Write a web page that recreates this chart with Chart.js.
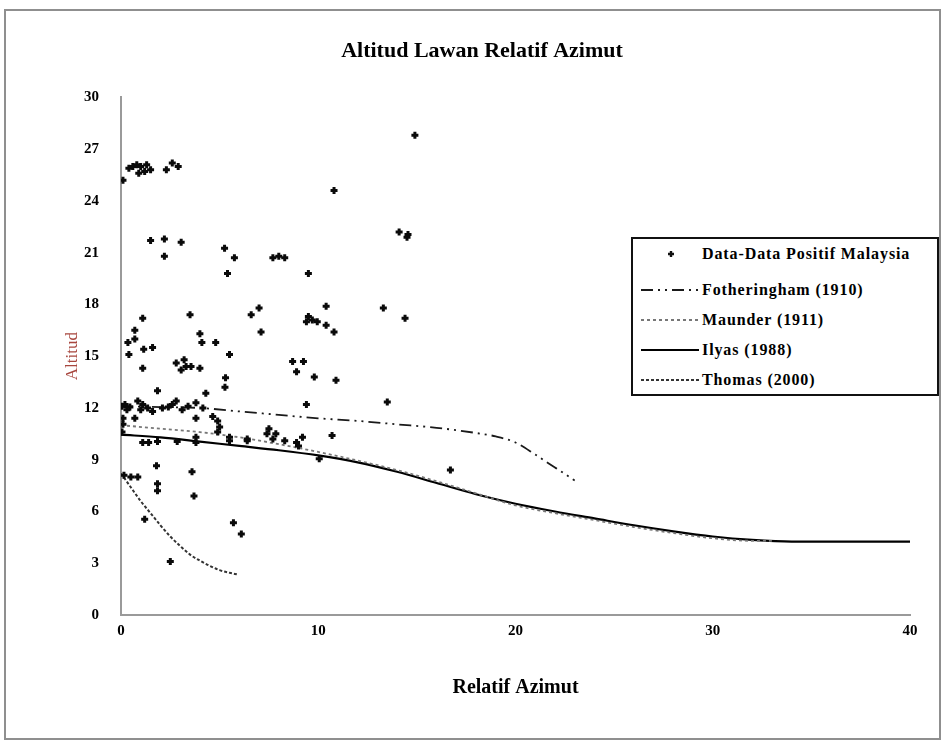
<!DOCTYPE html>
<html>
<head>
<meta charset="utf-8">
<script src="https://cdn.jsdelivr.net/npm/chart.js@4.4.1/dist/chart.umd.min.js"></script>
<style>
    html, body { margin: 0; padding: 0; background: #fff; }
    #wrap { position: relative; width: 945px; height: 740px; }
    #frame { position: absolute; left: 4px; top: 9px; width: 933px; height: 727px; border: 2px solid #8f8f8f; }
    #chart { position: absolute; left: 0; top: 0; }
    #legend {
        position: absolute; left: 631px; top: 237px; width: 304px; height: 155px;
        border: 2px solid #111; background: #fff; overflow: hidden;
        font: bold 16px "Liberation Serif", serif; color: #000;
    }
    #legend .row { display: flex; align-items: center; height: 30px; }
    #legend .row:first-child { margin-bottom: 6px; }
    #legend svg { margin-left: 8px; margin-right: 3px; flex: none; }
    #legend span { letter-spacing: 0.9px; white-space: nowrap; }
</style>
</head>
<body>
<div id="wrap">
    <div id="frame"></div>
    <canvas id="chart" width="945" height="740"></canvas>
    <div id="legend"></div>
</div>
<script>
// Data-Data Positif Malaysia (relatif azimut, altitud)
const dotAz = [
    14.9, 0.1, 0.4, 0.6, 0.8, 1.0, 1.2, 1.3, 1.5, 0.9, 2.3, 2.6, 2.9, 10.8,
    1.5, 2.2, 2.2, 3.05, 5.25, 5.75, 5.4, 7.7, 8.0, 8.3, 9.5, 14.1, 14.5, 14.55,
    10.4, 9.5, 9.7, 9.95, 10.4, 10.8, 9.4, 13.3, 14.4, 6.6, 7.0, 7.1,
    8.7, 9.25, 8.9, 9.8, 10.9, 9.4, 13.5,
    1.1, 3.5, 0.7, 0.7, 0.35, 0.4, 1.15, 1.6, 1.1, 4.0, 4.1, 4.8, 5.5,
    2.8, 3.2, 3.05, 3.55, 4.0, 3.3, 5.3, 5.27, 1.85, 4.3,
    0.05, 0.2, 0.45, 0.85, 1.1, 1.35, 1.6, 2.1, 2.4, 2.8, 3.1, 3.8, 4.15, 0.3, 1.0, 2.6, 3.4,
    0.7, 0.1, 0.1, 3.8, 4.65, 4.9, 5.0, 5.5, 0.05,
    1.1, 1.4, 1.85, 2.85, 3.8, 3.8, 4.9, 5.5, 6.4, 6.4,
    7.5, 7.4, 7.85, 7.7, 8.3, 8.9, 9.2, 9.0, 10.7, 10.05, 16.7,
    1.8, 3.6, 0.15, 0.5, 0.85, 1.85, 1.85, 3.7, 1.2, 5.7, 6.1, 2.5
];
const dotAlt = [
    27.8, 25.2, 25.9, 26.0, 26.1, 26.0, 25.7, 26.1, 25.8, 25.6, 25.8, 26.2, 26.0, 24.6,
    21.7, 21.8, 20.8, 21.6, 21.25, 20.7, 19.8, 20.7, 20.8, 20.7, 19.8, 22.2, 21.9, 22.05,
    17.9, 17.3, 17.1, 17.0, 16.8, 16.4, 17.0, 17.8, 17.2, 17.4, 17.8, 16.4,
    14.7, 14.7, 14.1, 13.8, 13.6, 12.2, 12.35,
    17.2, 17.4, 16.5, 16.0, 15.8, 15.1, 15.4, 15.5, 14.3, 16.3, 15.8, 15.8, 15.1,
    14.6, 14.8, 14.2, 14.4, 14.3, 14.4, 13.75, 13.2, 13.0, 12.85,
    12.1, 12.2, 12.05, 12.4, 12.2, 12.0, 11.8, 12.0, 12.05, 12.4, 11.9, 12.3, 12.0, 11.9, 11.9, 12.2, 12.1,
    11.4, 11.4, 11.05, 11.4, 11.5, 11.25, 10.9, 10.3, 10.6,
    10.0, 10.0, 10.05, 10.05, 10.3, 10.0, 10.6, 10.1, 10.1, 10.2,
    10.8, 10.5, 10.5, 10.2, 10.1, 10.0, 10.3, 9.8, 10.4, 9.05, 8.4,
    8.65, 8.3, 8.1, 8.0, 8.0, 7.6, 7.2, 6.9, 5.55, 5.35, 4.7, 3.1
];

// Fotheringham (1910)
const fothAz  = [0, 2, 4, 6, 8, 10, 12, 14, 16, 18, 19, 20, 21, 22, 23];
const fothAlt = [12.1, 12.05, 12.0, 11.8, 11.6, 11.4, 11.25, 11.05, 10.85, 10.55, 10.35, 10.0, 9.3, 8.55, 7.8];

// Maunder (1911)
const maunderAz  = [0, 2, 4, 6, 8, 10, 12, 14, 16, 18, 20, 22, 24, 26, 28, 30, 32, 33];
const maunderAlt = [11.0, 10.8, 10.6, 10.3, 9.9, 9.45, 8.95, 8.4, 7.75, 7.05, 6.35, 5.9, 5.5, 5.1, 4.75, 4.45, 4.3, 4.3];

// Ilyas (1988)
const ilyasAz  = [0, 2, 4, 6, 8, 10, 12, 14, 16, 18, 20, 22, 24, 26, 28, 30, 32, 34, 36, 38, 40];
const ilyasAlt = [10.45, 10.3, 10.05, 9.8, 9.55, 9.25, 8.85, 8.3, 7.65, 7.0, 6.45, 6.0, 5.6, 5.2, 4.85, 4.55, 4.35, 4.25, 4.25, 4.25, 4.25];

// Thomas (2000)
const thomasAz  = [0, 0.5, 1, 1.5, 2, 2.5, 3, 3.5, 4, 4.5, 5, 5.5, 5.9];
const thomasAlt = [8.2, 7.4, 6.6, 5.9, 5.2, 4.55, 4.0, 3.5, 3.15, 2.85, 2.6, 2.45, 2.35];

const xTicks = [0, 10, 20, 30, 40];
const yTicks = [0, 3, 6, 9, 12, 15, 18, 21, 24, 27, 30];

const toPoints = (xs, ys) => xs.map((x, i) => ({ x: x, y: ys[i] }));

const serif = 'Liberation Serif';

const lineSet = (label, xs, ys, color, width, dash) => ({
    label: label,
    type: 'line',
    data: toPoints(xs, ys),
    borderColor: color,
    backgroundColor: color,
    borderWidth: width,
    borderDash: dash,
    pointRadius: 0,
    cubicInterpolationMode: 'monotone',
    fill: false,
});

const datasets = [
    {
        label: 'Data-Data Positif Malaysia',
        type: 'scatter',
        data: toPoints(dotAz, dotAlt),
        pointStyle: 'cross',
        pointRadius: 3.5,
        borderWidth: 3,
        borderColor: '#0a0a0a',
        backgroundColor: '#0a0a0a',
    },
    lineSet('Fotheringham (1910)', fothAz, fothAlt, '#1a1a1a', 1.8, [12, 5, 2, 5, 2, 5]),
    lineSet('Maunder (1911)', maunderAz, maunderAlt, '#777', 1.8, [3, 3]),
    lineSet('Ilyas (1988)', ilyasAz, ilyasAlt, '#000', 2.2, []),
    lineSet('Thomas (2000)', thomasAz, thomasAlt, '#333', 2, [3, 2]),
];

const config = {
    type: 'scatter',
    data: { datasets },
    options: {
        responsive: false,
        animation: false,
        layout: { padding: { left: 54, right: 35, top: 0, bottom: 25 } },
        plugins: {
            legend: { display: false },
            tooltip: { enabled: false },
            title: {
                display: true,
                text: 'Altitud Lawan Relatif Azimut',
                color: '#000',
                font: { family: serif, size: 22, weight: 'bold' },
                padding: { top: 38, bottom: 33 },
            },
        },
        scales: {
            x: {
                type: 'linear',
                min: xTicks[0],
                max: xTicks[xTicks.length - 1],
                afterBuildTicks: s => { s.ticks = xTicks.map(v => ({ value: v })); },
                afterFit: s => { s.height = 100; },
                ticks: { color: '#000', padding: 7, font: { family: serif, size: 15, weight: 'bold' } },
                grid: { display: false, drawTicks: false },
                border: { display: true, color: '#9a9a9a', width: 2 },
                title: {
                    display: true,
                    text: 'Relatif Azimut',
                    color: '#000',
                    font: { family: serif, size: 20, weight: 'bold' },
                    padding: { top: 0, bottom: 15 },
                },
            },
            y: {
                type: 'linear',
                min: yTicks[0],
                max: yTicks[yTicks.length - 1],
                afterBuildTicks: s => { s.ticks = yTicks.map(v => ({ value: v })); },
                afterFit: s => { s.width = 67; },
                ticks: { color: '#000', padding: 22, font: { family: serif, size: 15, weight: 'bold' } },
                grid: { display: false, drawTicks: false },
                border: { display: true, color: '#9a9a9a', width: 2 },
                title: {
                    display: true,
                    text: 'Altitud',
                    color: '#a8473f',
                    font: { family: serif, size: 17 },
                    padding: { top: 8, bottom: 0 },
                },
            },
        },
    },
};

const chart = new Chart(document.getElementById('chart'), config);

// Legend (HTML, built from the chart datasets)
const legend = document.getElementById('legend');
chart.data.datasets.forEach(ds => {
    const row = document.createElement('div');
    row.className = 'row';
    let sample;
    if (ds.type === 'scatter') {
        sample = '<svg width="58" height="12"><path d="M27 6h6M30 3v6" stroke="#111" stroke-width="2.4"/></svg>';
    } else {
        const dash = ds.borderDash.length ? ds.borderDash.join(' ') : 'none';
        sample = '<svg width="58" height="12"><line x1="0" y1="6" x2="58" y2="6" stroke="' + ds.borderColor +
            '" stroke-width="' + ds.borderWidth + '" stroke-dasharray="' + dash + '"/></svg>';
    }
    row.innerHTML = sample + '<span>' + ds.label + '</span>';
    legend.appendChild(row);
});
</script>
</body>
</html>
